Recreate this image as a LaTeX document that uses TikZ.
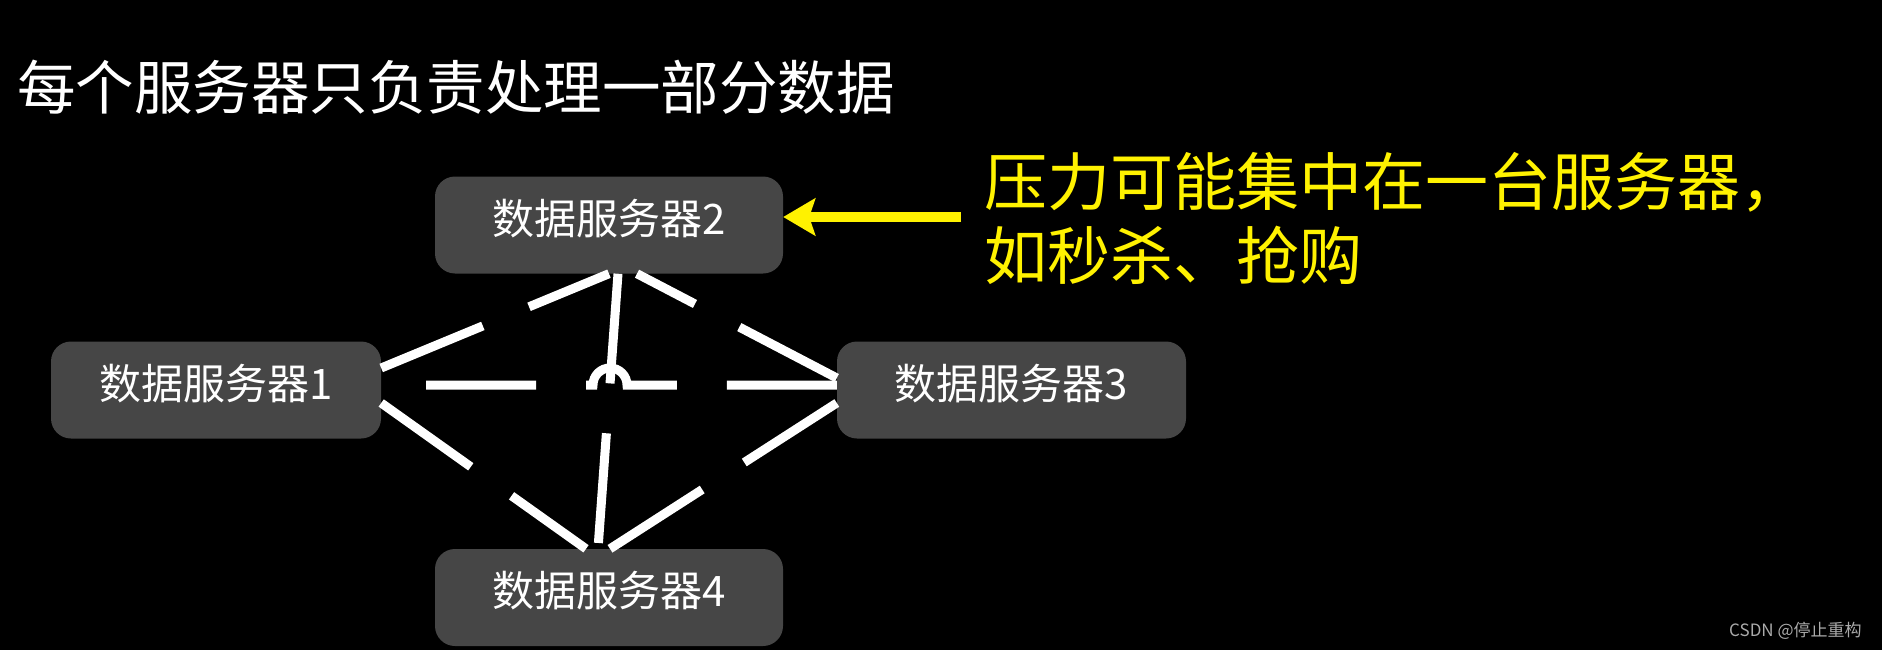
\documentclass[tikz,border=0pt]{standalone}
\usepackage{fontspec}
\newfontfamily\cjk{Noto Sans CJK SC}
\usetikzlibrary{arrows.meta}
\definecolor{boxgray}{RGB}{70,70,70}
\definecolor{wmgray}{RGB}{170,170,170}
\begin{document}
\begin{tikzpicture}[x=1pt,y=-1pt,
  server/.style={draw=none, fill=boxgray, rounded corners=20pt, text=white,
    font=\cjk\fontsize{42}{50}\selectfont, inner sep=0pt, minimum height=97pt,
    text height=32pt, text depth=14pt},
  link/.style={draw=white, line width=9pt, dash pattern=on 110pt off 50pt},
  hint/.style={draw=yellow, line width=10pt, -{Stealth[length=32pt,width=37pt,inset=6pt]}},
  plain/.style={inner sep=0pt, anchor=west}]
\fill[black] (0,0) rectangle (1882,650);
\useasboundingbox (0,0) rectangle (1882,650);
% title
\node[plain, text=white, font=\cjk\fontsize{58.5}{70}\selectfont] (title) at (17,87) {每个服务器只负责处理一部分数据};
% servers
\node[server, minimum width=330pt] (b1) at (216,390) {数据服务器1};
\node[server, minimum width=348pt] (b2) at (609,225) {数据服务器2};
\node[server, minimum width=349pt] (b3) at (1011.5,390) {数据服务器3};
\node[server, minimum width=348pt] (b4) at (609,597.5) {数据服务器4};
% links
\coordinate (jump) at (610,385);
\draw[link] ([yshift=22pt]b1.east) -- (b2.south);
\draw[link] ([yshift=-13pt]b1.east) -- ([xshift=-23pt]b4.north);
\draw[link] ([yshift=12pt]b3.west) -- ([xshift=28pt]b2.south);
\draw[link] ([yshift=-13pt]b3.west) -- ([xshift=1pt]b4.north);
\draw[link] ([xshift=9pt]b2.south) -- ([xshift=-11pt]b4.north);
\draw[link] ([yshift=5pt]b3.west) -- ([xshift=17pt]jump)
  arc[start angle=0, end angle=180, radius=17pt] -- ([yshift=5pt]b1.east);
% note
\coordinate (tail) at (961,217);
\draw[hint] (tail) -- ([yshift=8pt]b2.east);
\node[plain, text=yellow, align=left, font=\cjk\fontsize{63}{74}\selectfont] (note) at (984,218)
  {压力可能集中在一台服务器，\\如秒杀、抢购};
% watermark
\node[plain, text=wmgray, font=\cjk\fontsize{17}{20}\selectfont] (wm) at (1729,631) {CSDN @停止重构};
\end{tikzpicture}
\end{document}
